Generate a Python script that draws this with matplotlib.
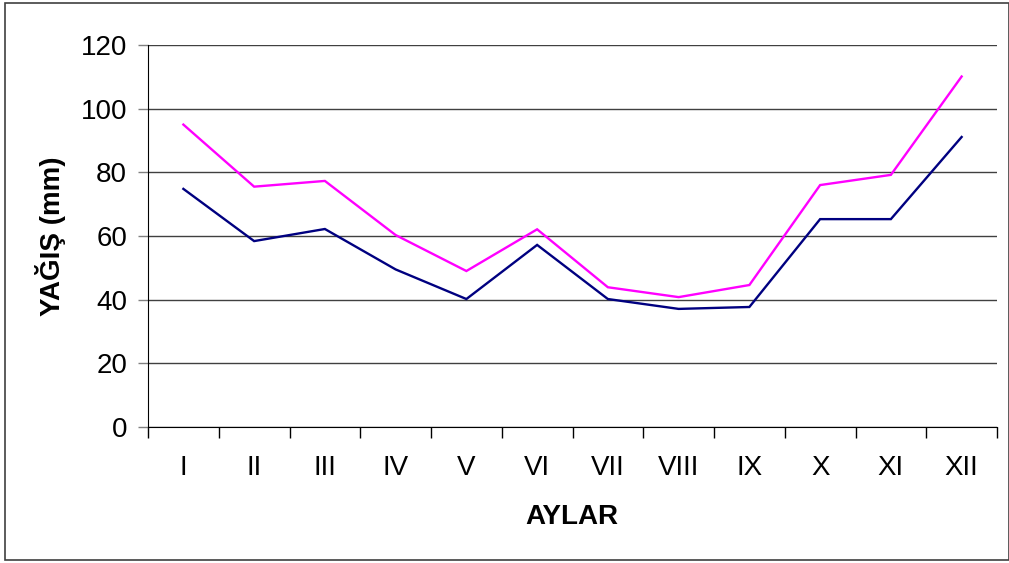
import matplotlib
matplotlib.use("Agg")
import matplotlib.pyplot as plt
from matplotlib.patches import Rectangle

months = ["I", "II", "III", "IV", "V", "VI", "VII", "VIII", "IX", "X", "XI", "XII"]
series_pink = [95.0, 75.5, 77.3, 60.3, 49.0, 62.1, 43.9, 40.8, 44.6, 76.0, 79.2, 110.1]
series_navy = [74.8, 58.4, 62.2, 49.5, 40.2, 57.2, 40.2, 37.1, 37.7, 65.3, 65.3, 91.1]
yticks = [0, 20, 40, 60, 80, 100, 120]

plt.rcParams['font.family'] = ['Liberation Sans', 'DejaVu Sans']

fig = plt.figure(figsize=(10.09, 5.63), dpi=100)
ax = fig.add_axes([148/1009, (563-427)/563, (997-148)/1009, (427-45)/563])

x = list(range(len(months)))
ax.plot(x, series_pink, color="#FF00FF", lw=1.7, solid_joinstyle='miter')
ax.plot(x, series_navy, color="#000080", lw=1.7, solid_joinstyle='miter')

ax.set_xlim(-0.5, len(months) - 0.5)
ax.set_ylim(0, 120)
ax.set_yticks(yticks)
ax.set_yticklabels([str(v) for v in yticks], fontsize=20)
ax.yaxis.grid(True, color="#404040", lw=1)
ax.set_axisbelow(True)
ax.tick_params(axis='y', length=7, width=1, color="#808080", pad=8)

ax.set_xticks([i + 0.5 for i in range(-1, len(months))], minor=False)
ax.set_xticklabels([])
ax.set_xticks(x, minor=True)
ax.set_xticklabels(months, minor=True, fontsize=20)
ax.tick_params(axis='x', which='major', length=8, width=1, color="black", direction='out')
ax.tick_params(axis='x', which='minor', length=0, pad=20)

for s in ['top', 'right']:
    ax.spines[s].set_visible(False)
ax.spines['left'].set_color('black')
ax.spines['bottom'].set_color('black')

fig.text(572/1009, 1 - 517/563, "AYLAR", fontsize=20, fontweight='bold', ha='center', va='center')
fig.text(50/1009, 1 - 236/563, "YAĞIŞ (mm)", fontsize=20, fontweight='bold', ha='center', va='center', rotation=90)

fig.patches.append(Rectangle((5/1009, 3/563), 1 - 5/1009, 1 - 6/563, transform=fig.transFigure,
                             fill=False, edgecolor='#404040', lw=1.2))

fig.savefig("out.png", dpi=100)
